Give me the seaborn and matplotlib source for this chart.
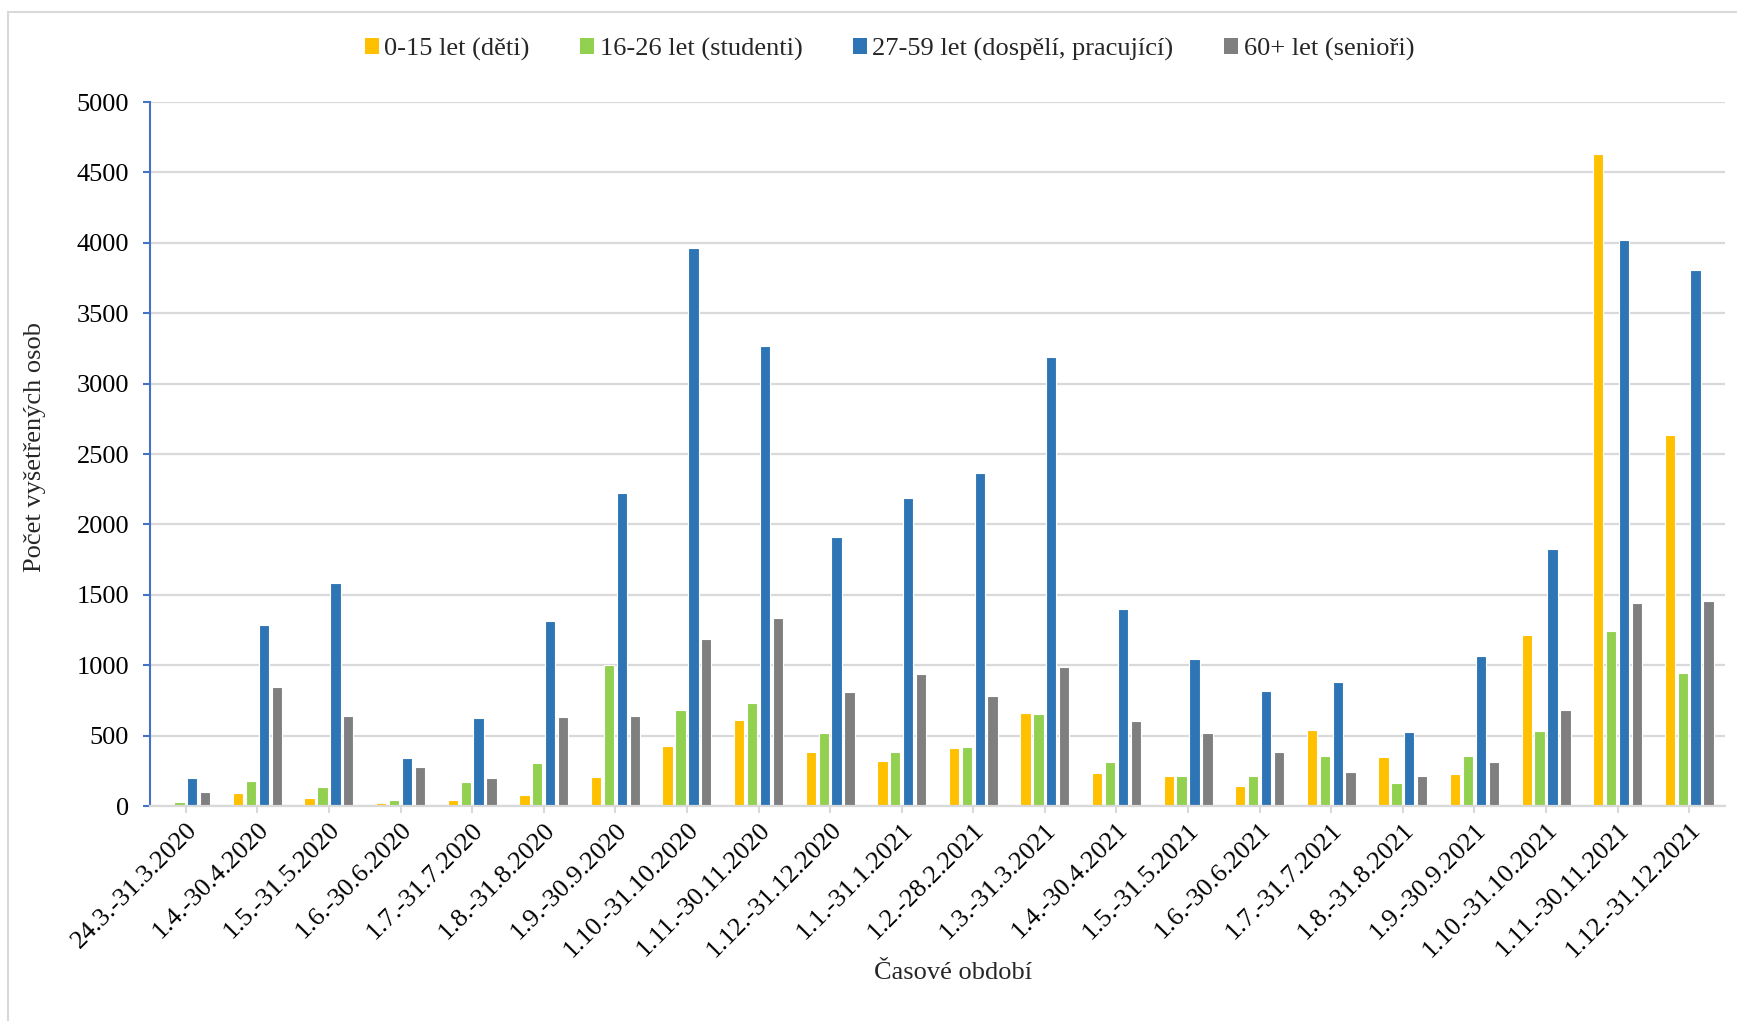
import matplotlib
matplotlib.use("Agg")
import matplotlib.pyplot as plt
import pandas as pd
import seaborn as sns
from matplotlib.patches import Rectangle, Patch

periods = [
    "24.3.-31.3.2020", "1.4.-30.4.2020", "1.5.-31.5.2020", "1.6.-30.6.2020",
    "1.7.-31.7.2020", "1.8.-31.8.2020", "1.9.-30.9.2020", "1.10.-31.10.2020",
    "1.11.-30.11.2020", "1.12.-31.12.2020", "1.1.-31.1.2021", "1.2.-28.2.2021",
    "1.3.-31.3.2021", "1.4.-30.4.2021", "1.5.-31.5.2021", "1.6.-30.6.2021",
    "1.7.-31.7.2021", "1.8.-31.8.2021", "1.9.-30.9.2021", "1.10.-31.10.2021",
    "1.11.-30.11.2021", "1.12.-31.12.2021",
]
groups = [
    "0-15 let (děti)",
    "16-26 let (studenti)",
    "27-59 let (dospělí, pracující)",
    "60+ let (senioři)",
]
deti = [15, 94, 55, 24, 40, 76, 204, 426, 609, 381, 322, 412,
        660, 237, 213, 142, 538, 348, 225, 1214, 4628, 2632]
studenti = [30, 178, 133, 40, 173, 303, 1001, 684, 729, 516, 381, 417,
            656, 312, 215, 211, 355, 166, 353, 533, 1243, 947]
dospeli = [201, 1288, 1582, 343, 623, 1314, 2224, 3964, 3270, 1910, 2189, 2364,
           3192, 1401, 1042, 815, 878, 526, 1063, 1822, 4017, 3804]
seniori = [97, 843, 637, 275, 197, 632, 637, 1186, 1333, 812, 935, 781,
           989, 601, 516, 384, 244, 213, 312, 680, 1440, 1455]
colors = ["#FFC000", "#92D050", "#2E75B6", "#7F7F7F"]

df = pd.DataFrame({"obdobi": periods, groups[0]: deti, groups[1]: studenti,
                   groups[2]: dospeli, groups[3]: seniori})
long = df.melt(id_vars="obdobi", var_name="skupina", value_name="pocet")

sns.set_theme(style="white")
plt.rcParams["font.family"] = ["Liberation Serif", "DejaVu Serif"]
FS = 19

fig = plt.figure(figsize=(17.37, 10.21), dpi=100)
ax = fig.add_axes([150 / 1737, 1 - 806 / 1021, 1575 / 1737, 704 / 1021])

sns.barplot(data=long, x="obdobi", y="pocet", hue="skupina", hue_order=groups,
            palette=colors, saturation=1, width=0.72, gap=0.2, edgecolor="white",
            linewidth=0.8, ax=ax, legend=False)

ax.set_ylim(0, 5000)
ax.set_xlim(-0.5, len(periods) - 0.5)
ax.set_yticks(range(0, 5001, 500))
ax.yaxis.grid(True, color="#d9d9d9", linewidth=1.6)
ax.set_axisbelow(True)
for side in ["top", "right"]:
    ax.spines[side].set_visible(False)
ax.spines["left"].set_color("#4472C4")
ax.spines["left"].set_linewidth(1.5)
ax.spines["bottom"].set_color("#d9d9d9")
ax.spines["bottom"].set_linewidth(1.6)
ax.tick_params(axis="y", colors="#4472C4", labelcolor="black", length=5, width=1.5,
               direction="out", labelsize=FS, left=True, pad=10)
ax.tick_params(axis="x", colors="#d9d9d9", labelcolor="black", length=5, width=1.5,
               direction="out", labelsize=FS, bottom=True, pad=4)
ax.set_xticks(range(len(periods)))
ax.set_xticklabels(periods, rotation=45, ha="right", va="top", rotation_mode="anchor")

ax.set_xlabel("Časové období", fontsize=FS)
ax.set_ylabel("Počet vyšetřených osob", fontsize=FS)
ax.xaxis.set_label_coords(0.51, -0.222)
ax.yaxis.set_label_coords(-0.066, 0.51)

handles = [Patch(facecolor=c, edgecolor="none") for c in colors]
fig.legend(handles, groups, loc="center", bbox_to_anchor=(0.512, 0.952), ncol=4,
           frameon=False, fontsize=FS, handlelength=0.55, handleheight=0.55,
           handletextpad=0.2, columnspacing=1.9)

fig.patches.append(Rectangle((8 / 1737, -0.05), 1.2, 1 - 12 / 1021 + 0.05,
                             transform=fig.transFigure, fill=False,
                             edgecolor="#d9d9d9", linewidth=1.5))

fig.savefig("out.png", dpi=100, facecolor="white")
